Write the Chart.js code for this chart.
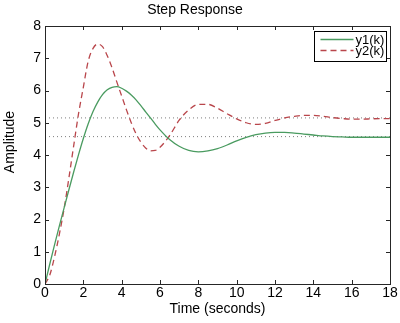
<!DOCTYPE html>
<html>
<head>
<meta charset="utf-8">
<script src="https://cdn.jsdelivr.net/npm/chart.js@4/dist/chart.umd.min.js"></script>
<style>
  html, body { margin: 0; padding: 0; background: #fff; }
  #wrap { width: 400px; height: 323px; }
</style>
</head>
<body>
<div id="wrap"><canvas id="stepChart" width="400" height="323"></canvas></div>
<script>
  // sample times (s) and the two responses
  const timeSec = [0, 0.25, 0.5, 0.75, 1, 1.25, 1.5, 1.75, 2, 2.25, 2.5, 2.75, 3, 3.25, 3.5, 3.75,
    4, 4.25, 4.5, 4.75, 5, 5.25, 5.5, 5.75, 6, 6.5, 7, 7.5, 8, 8.5, 9, 9.5, 10, 10.5, 11, 11.5,
    12, 12.5, 13, 13.5, 14, 14.5, 15, 15.5, 16, 16.5, 17, 17.5, 18];
  const y1 = [0, 0.62, 1.22, 1.8, 2.37, 2.93, 3.48, 4.01, 4.51, 4.96, 5.34, 5.64, 5.87, 6.02, 6.1, 6.12,
    6.07, 5.98, 5.86, 5.71, 5.53, 5.34, 5.15, 4.96, 4.78, 4.48, 4.27, 4.14, 4.1, 4.13, 4.2, 4.31, 4.44, 4.55, 4.63, 4.68,
    4.7, 4.7, 4.68, 4.65, 4.62, 4.59, 4.57, 4.56, 4.55, 4.55, 4.55, 4.55, 4.55];
  const y2 = [0, 0.28, 0.85, 1.55, 2.35, 3.3, 4.3, 5.28, 6.1, 6.9, 7.3, 7.44, 7.36, 7.08, 6.7, 6.26,
    5.83, 5.4, 5.0, 4.66, 4.4, 4.22, 4.13, 4.14, 4.24, 4.6, 5.08, 5.4, 5.57, 5.57, 5.45, 5.28, 5.12, 5.0, 4.95, 4.98,
    5.07, 5.15, 5.2, 5.23, 5.23, 5.2, 5.16, 5.13, 5.11, 5.11, 5.12, 5.13, 5.13];
  const seriesNames = ['y1(k)', 'y2(k)'];
  const steadyStates = [5.15, 4.57];
  const xTicks = [0, 2, 4, 6, 8, 10, 12, 14, 16, 18];
  const yTicks = [0, 1, 2, 3, 4, 5, 6, 7, 8];

  const FONT = '"Liberation Sans", Arial, Helvetica, sans-serif';
  const GREEN = '#4a9b60';
  const RED = '#b9464b';

  function pairs(ys) {
    return timeSec.map(function (t, i) {
      return { x: t, y: ys[i] };
    });
  }

  const refSets = steadyStates.map(function (v) {
    return {
      label: '',
      data: [{ x: xTicks[0], y: v }, { x: xTicks[xTicks.length - 1], y: v }],
      borderColor: '#7d7d7d',
      borderWidth: 1,
      borderDash: [1, 3],
      pointRadius: 0,
      tension: 0,
    };
  });

  // matlab style frame: box round the axes with inward ticks on every side, ylabel and legend
  const matlabFrame = {
    id: 'matlabFrame',
    afterDraw(chart) {
      const ctx = chart.ctx;
      const a = chart.chartArea;
      const sx = chart.scales.x;
      const sy = chart.scales.y;
      const tl = 4;

      ctx.save();
      ctx.strokeStyle = '#262626';
      ctx.lineWidth = 1;
      ctx.strokeRect(Math.round(a.left) + 0.5, Math.round(a.top) + 0.5,
        Math.round(a.right - a.left), Math.round(a.bottom - a.top));
      ctx.beginPath();
      xTicks.forEach(function (v) {
        const px = Math.round(sx.getPixelForValue(v)) + 0.5;
        ctx.moveTo(px, a.bottom);
        ctx.lineTo(px, a.bottom - tl);
        ctx.moveTo(px, a.top);
        ctx.lineTo(px, a.top + tl);
      });
      yTicks.forEach(function (v) {
        const py = Math.round(sy.getPixelForValue(v)) + 0.5;
        ctx.moveTo(a.left, py);
        ctx.lineTo(a.left + tl, py);
        ctx.moveTo(a.right, py);
        ctx.lineTo(a.right - tl, py);
      });
      ctx.stroke();

      // y label sits a bit above the axes centre in the original
      ctx.save();
      ctx.translate(13.5, 142);
      ctx.rotate(-Math.PI / 2);
      ctx.font = '14px ' + FONT;
      ctx.fillStyle = '#000';
      ctx.textAlign = 'center';
      ctx.textBaseline = 'alphabetic';
      ctx.fillText('Amplitude', 0, 0);
      ctx.restore();

      // legend box
      const items = chart.data.datasets.filter(function (d) { return d.label; });
      const w = 72;
      const h = 30;
      const lx = Math.round(a.right - 4 - w) + 0.5;
      const ly = Math.round(a.top + 5) + 0.5;
      ctx.fillStyle = '#fff';
      ctx.fillRect(lx, ly, w, h);
      ctx.strokeStyle = '#000';
      ctx.strokeRect(lx, ly, w, h);
      ctx.font = '13px ' + FONT;
      ctx.textBaseline = 'middle';
      ctx.textAlign = 'left';
      items.forEach(function (d, i) {
        const cy = ly + 8 + i * 11;
        ctx.strokeStyle = d.borderColor;
        ctx.lineWidth = d.borderWidth;
        ctx.setLineDash(d.borderDash || []);
        ctx.beginPath();
        ctx.moveTo(lx + 6, cy);
        ctx.lineTo(lx + 39, cy);
        ctx.stroke();
        ctx.setLineDash([]);
        ctx.fillStyle = '#000';
        ctx.fillText(d.label, lx + 41, cy + 0.5);
      });
      ctx.restore();
    },
  };

  new Chart(document.getElementById('stepChart'), {
    type: 'line',
    data: {
      datasets: [
        {
          label: seriesNames[0],
          data: pairs(y1),
          borderColor: GREEN,
          borderWidth: 1.3,
          pointRadius: 0,
          cubicInterpolationMode: 'monotone',
        },
        {
          label: seriesNames[1],
          data: pairs(y2),
          borderColor: RED,
          borderWidth: 1.3,
          borderDash: [6, 4],
          pointRadius: 0,
          cubicInterpolationMode: 'monotone',
        },
      ].concat(refSets),
    },
    options: {
      responsive: false,
      animation: false,
      layout: { padding: { left: 0, right: 10, top: 0, bottom: 0 } },
      plugins: {
        legend: { display: false },
        tooltip: { enabled: false },
        title: {
          display: true,
          text: 'Step Response',
          color: '#000',
          font: { family: FONT, size: 14, weight: 'normal' },
          padding: { top: 2, bottom: 7.2 },
        },
      },
      scales: {
        x: {
          type: 'linear',
          min: 0,
          max: 18,
          afterFit: function (s) { s.height = 39; },
          afterBuildTicks: function (s) { s.ticks = xTicks.map(function (v) { return { value: v }; }); },
          grid: { display: false, drawTicks: false },
          border: { display: false },
          ticks: { color: '#000', padding: 1, maxRotation: 0, font: { family: FONT, size: 14 } },
          title: {
            display: true,
            text: 'Time (seconds)',
            color: '#000',
            font: { family: FONT, size: 14 },
            padding: { top: 0, bottom: 5.6 },
          },
        },
        y: {
          min: 0,
          max: 8,
          afterFit: function (s) { s.width = 45; },
          afterBuildTicks: function (s) { s.ticks = yTicks.map(function (v) { return { value: v }; }); },
          grid: { display: false, drawTicks: false },
          border: { display: false },
          ticks: { color: '#000', padding: 4, font: { family: FONT, size: 14 } },
        },
      },
    },
    plugins: [matlabFrame],
  });
</script>
</body>
</html>
